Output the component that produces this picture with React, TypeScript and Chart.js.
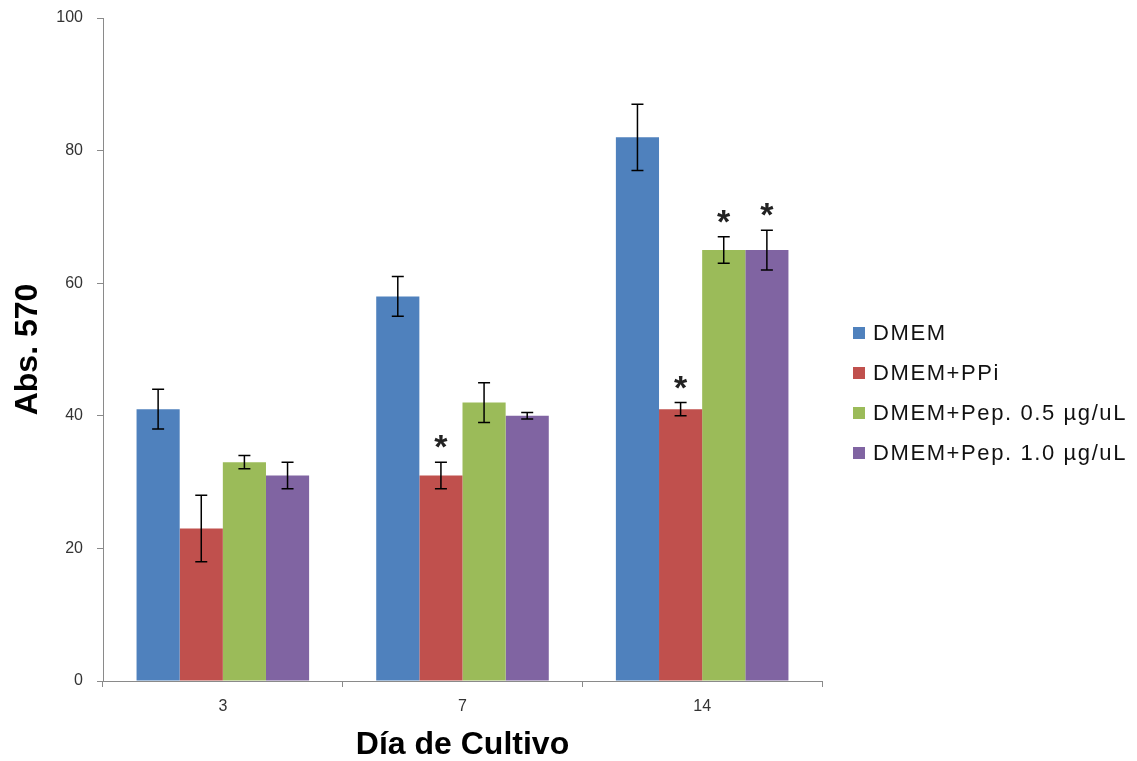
import React, { useEffect, useRef } from "react";
import { Chart, registerables } from "chart.js";

Chart.register(...registerables);

const categories = ["3", "7", "14"];
const seriesLabels = ["DMEM", "DMEM+PPi", "DMEM+Pep. 0.5 µg/uL", "DMEM+Pep. 1.0 µg/uL"];
const seriesColors = ["#4F81BD", "#C0504D", "#9BBB59", "#8064A2"];

const dmem = [41, 58, 82];
const dmemErr = [3, 3, 5];
const ppi = [23, 31, 41];
const ppiErr = [5, 2, 1];
const pep05 = [33, 42, 65];
const pep05Err = [1, 3, 2];
const pep10 = [31, 40, 65];
const pep10Err = [2, 0.5, 3];

const dmemSig = [false, false, false];
const ppiSig = [false, true, true];
const pep05Sig = [false, false, true];
const pep10Sig = [false, false, true];

const yTicks = [0, 20, 40, 60, 80, 100];

const values = [dmem, ppi, pep05, pep10];
const errors = [dmemErr, ppiErr, pep05Err, pep10Err];
const sigs = [dmemSig, ppiSig, pep05Sig, pep10Sig];

const FONT = "'Liberation Sans', Arial, sans-serif";
const NARROW = "'Liberation Sans Narrow', 'Liberation Sans', Arial, sans-serif";

const errorBarPlugin = {
  id: "errorBars",
  afterDatasetsDraw(chart: any) {
    const ctx = chart.ctx;
    const yScale = chart.scales.y;
    ctx.save();
    chart.data.datasets.forEach((ds: any, i: number) => {
      const meta = chart.getDatasetMeta(i);
      meta.data.forEach((bar: any, j: number) => {
        const v = values[i][j];
        const e = errors[i][j];
        const x = bar.x;
        const top = yScale.getPixelForValue(v + e);
        const bot = yScale.getPixelForValue(v - e);
        ctx.strokeStyle = "#000";
        ctx.lineWidth = 1.5;
        ctx.beginPath();
        ctx.moveTo(x, top);
        ctx.lineTo(x, bot);
        ctx.moveTo(x - 6, top);
        ctx.lineTo(x + 6, top);
        ctx.moveTo(x - 6, bot);
        ctx.lineTo(x + 6, bot);
        ctx.stroke();
        if (sigs[i][j]) {
          ctx.fillStyle = "#222";
          ctx.font = `bold 34px ${FONT}`;
          ctx.textAlign = "center";
          ctx.textBaseline = "alphabetic";
          ctx.fillText("*", x, top - 24 + 20);
        }
      });
    });
    ctx.restore();
  },
};

const legendPlugin = {
  id: "customLegend",
  afterDraw(chart: any) {
    const ctx = chart.ctx;
    ctx.save();
    const x0 = 853;
    const ys = [333, 373, 413, 453];
    seriesLabels.forEach((label, i) => {
      ctx.fillStyle = seriesColors[i];
      ctx.fillRect(x0, ys[i] - 6, 12, 12);
      ctx.fillStyle = "#111";
      ctx.font = `22px ${FONT}`;
      (ctx as any).letterSpacing = "1.6px";
      ctx.textAlign = "left";
      ctx.textBaseline = "middle";
      ctx.fillText(label, x0 + 20, ys[i] + 1);
    });
    ctx.restore();
  },
};

export default function App() {
  const ref = useRef<HTMLCanvasElement | null>(null);
  useEffect(() => {
    if (!ref.current) return;
    const chart = new Chart(ref.current, {
      type: "bar",
      data: {
        labels: categories,
        datasets: seriesLabels.map((label, i) => ({
          label,
          data: values[i],
          backgroundColor: seriesColors[i],
          borderWidth: 0,
          categoryPercentage: 0.72,
          barPercentage: 1.0,
        })),
      },
      options: {
        animation: false,
        responsive: true,
        maintainAspectRatio: false,
        layout: { padding: { top: 18, right: 315, left: 0, bottom: 0 } },
        plugins: {
          legend: { display: false },
          tooltip: { enabled: false },
        },
        scales: {
          x: {
            grid: {
              offset: true,
              drawOnChartArea: false,
              drawTicks: true,
              tickLength: 6,
              color: "#8a8a8a",
            },
            border: { display: true, color: "#8a8a8a", width: 1 },
            ticks: {
              color: "#333",
              font: { family: NARROW, size: 16 },
              padding: 10,
            },
            title: {
              display: true,
              text: "Día de Cultivo",
              color: "#000",
              font: { family: FONT, size: 32, weight: "bold", lineHeight: 1 },
              padding: { top: 0, bottom: 0 },
            },
            afterFit: (s: any) => {
              s.height = 80;
            },
          },
          y: {
            min: 0,
            max: 100,
            afterBuildTicks: (s: any) => {
              s.ticks = yTicks.map((v) => ({ value: v }));
            },
            grid: {
              drawOnChartArea: false,
              drawTicks: true,
              tickLength: 6,
              color: "#8a8a8a",
            },
            border: { display: true, color: "#8a8a8a", width: 1 },
            ticks: {
              color: "#333",
              font: { family: NARROW, size: 16 },
              padding: 14,
            },
            title: {
              display: true,
              text: "Abs. 570",
              color: "#000",
              font: { family: FONT, size: 32, weight: "bold", lineHeight: 1 },
              padding: { top: 12, bottom: 0 },
            },
            afterFit: (s: any) => {
              s.width = 103;
              s.paddingTop = 0;
              s.paddingBottom = 0;
            },
          },
        },
      },
      plugins: [errorBarPlugin, legendPlugin],
    } as any);
    return () => chart.destroy();
  }, []);
  return (
    <div style={{ position: "absolute", left: 0, top: 0, width: 1137, height: 761, background: "#fff" }}>
      <canvas ref={ref} />
    </div>
  );
}
